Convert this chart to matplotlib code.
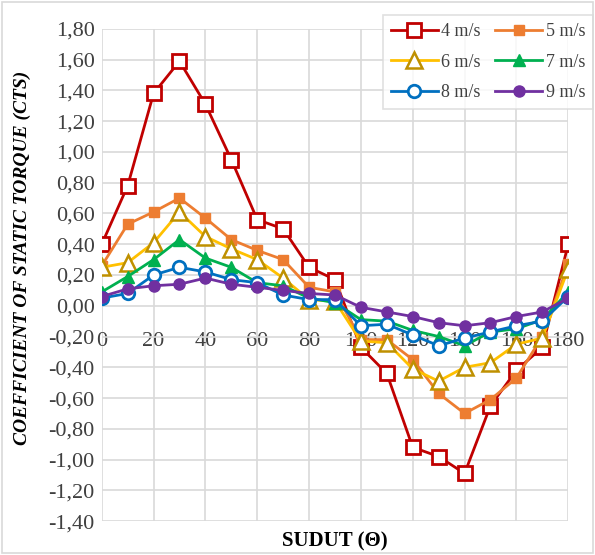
import matplotlib.pyplot as plt
import numpy as np
from matplotlib.ticker import FuncFormatter, MultipleLocator

# Data: sudut (derajat) dan koefisien torsi statis
sudut = [0, 10, 20, 30, 40, 50, 60, 70, 80, 90, 100, 110, 120, 130, 140, 150, 160, 170, 180]

v4 = [0.40, 0.78, 1.38, 1.59, 1.31, 0.95, 0.56, 0.50, 0.25, 0.17, -0.27, -0.44,
      -0.92, -0.98, -1.09, -0.65, -0.42, -0.27, 0.40]
v5 = [0.26, 0.53, 0.61, 0.70, 0.57, 0.43, 0.36, 0.30, 0.12, 0.09, -0.22, -0.22,
      -0.35, -0.57, -0.70, -0.61, -0.47, -0.20, 0.27]
v6 = [0.25, 0.28, 0.41, 0.61, 0.45, 0.37, 0.30, 0.18, 0.04, 0.03, -0.23, -0.24,
      -0.41, -0.49, -0.40, -0.37, -0.25, -0.21, 0.24]
v7 = [0.09, 0.19, 0.30, 0.43, 0.31, 0.25, 0.15, 0.13, 0.05, 0.02, -0.09, -0.10,
      -0.16, -0.20, -0.26, -0.17, -0.15, -0.09, 0.09]
v8 = [0.05, 0.08, 0.20, 0.25, 0.22, 0.17, 0.15, 0.07, 0.04, 0.04, -0.13, -0.12,
      -0.19, -0.26, -0.21, -0.17, -0.13, -0.10, 0.06]
v9 = [0.06, 0.11, 0.13, 0.14, 0.18, 0.14, 0.12, 0.10, 0.08, 0.07, -0.01, -0.04,
      -0.07, -0.11, -0.13, -0.11, -0.07, -0.04, 0.05]

plt.rcParams['font.family'] = ['Liberation Serif', 'DejaVu Serif']

fig = plt.figure(figsize=(5.95, 5.55), dpi=100)
ax = fig.add_axes([0.171, 0.061, 0.784, 0.887])

# Garis dan marker
l4, = ax.plot(sudut, v4, color='#C00000', lw=2, marker='s', ms=10,
              mfc='white', mec='#C00000', mew=2, label='4 m/s', zorder=3)
l5, = ax.plot(sudut, v5, color='#ED7D31', lw=2, marker='s', ms=7,
              mfc='#ED7D31', mec='#ED7D31', label='5 m/s', zorder=3)
l6, = ax.plot(sudut, v6, color='#FFC000', lw=2, marker='^', ms=11,
              mfc='white', mec='#BF9000', mew=1.8, label='6 m/s', zorder=3)
l7, = ax.plot(sudut, v7, color='#00B050', lw=2, marker='^', ms=8,
              mfc='#00B050', mec='#00B050', label='7 m/s', zorder=3)
l8, = ax.plot(sudut, v8, color='#0070C0', lw=2, marker='o', ms=9,
              mfc='white', mec='#0070C0', mew=2, label='8 m/s', zorder=3)
l9, = ax.plot(sudut, v9, color='#7030A0', lw=2, marker='o', ms=8,
              mfc='#7030A0', mec='#7030A0', label='9 m/s', zorder=3)

# Sumbu
ax.set_xlim(0, 180)
ax.set_ylim(-1.40, 1.80)
ax.xaxis.set_major_locator(MultipleLocator(20))
ax.yaxis.set_major_locator(MultipleLocator(0.2))
ax.yaxis.set_major_formatter(FuncFormatter(lambda v, p: f"{v:.2f}".replace('.', ',')))
ax.grid(True, color='#D9D9D9', lw=1.2)
ax.set_axisbelow(True)
for s in ax.spines.values():
    s.set_visible(False)
ax.spines['bottom'].set_position(('data', 0))
ax.tick_params(axis='both', length=0, labelsize=16, colors='#404040')
ax.tick_params(axis='x', pad=19)
ax.tick_params(axis='y', pad=5)

fig.text(0.038, 0.535, 'COEFFICIENT OF STATIC TORQUE (CTS)', rotation=90,
         ha='center', va='center', fontsize=14, fontweight='bold', style='italic')
fig.text(0.563, 0.025, 'SUDUT (\u0398)', ha='center', va='center',
         fontsize=15, fontweight='bold')

leg = ax.legend(handles=[l4, l6, l8, l5, l7, l9], ncol=2, loc='upper right',
                bbox_to_anchor=(1.054, 1.028), borderaxespad=0, fontsize=13,
                frameon=True, fancybox=False, edgecolor='#D9D9D9',
                handlelength=2.6, columnspacing=0.8, handletextpad=0.2,
                borderpad=0.45, labelspacing=0.75)
leg.get_frame().set_linewidth(1.2)
for t in leg.get_texts():
    t.set_color('#404040')

# Bingkai luar
fig.patches.append(plt.Rectangle((0.003, 0.003), 0.994, 0.994, transform=fig.transFigure,
                                 fill=False, edgecolor='#D9D9D9', lw=1.2))

fig.savefig('out.png', dpi=100)
